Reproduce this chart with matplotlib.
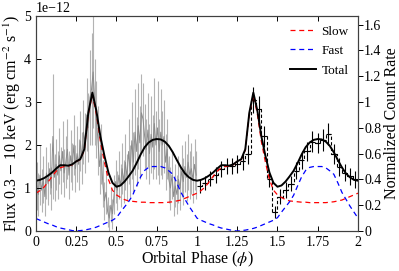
import numpy as np
import matplotlib
matplotlib.use('Agg')
import matplotlib.pyplot as plt
from matplotlib.ticker import FuncFormatter

plt.rcParams['font.family'] = ['Liberation Serif', 'DejaVu Serif']
plt.rcParams['mathtext.fontset'] = 'stix'

# ---------------- data (flux in units of 1e-12 erg cm^-2 s^-1) ----------------
model_phase = np.arange(81) * 0.025

total = [1.17, 1.19, 1.23, 1.29, 1.36, 1.45, 1.53, 1.53, 1.52, 1.55,
         1.62, 1.67, 1.90, 2.75, 3.22, 2.80, 2.20, 1.75, 1.36, 1.12,
         1.03, 1.06, 1.15, 1.27, 1.40, 1.58, 1.78, 1.95, 2.06, 2.12,
         2.14, 2.13, 2.08, 1.98, 1.83, 1.65, 1.48, 1.34, 1.25, 1.19,
         1.17, 1.19, 1.23, 1.29, 1.36, 1.45, 1.53, 1.53, 1.52, 1.55,
         1.62, 1.67, 1.90, 2.75, 3.22, 2.80, 2.20, 1.75, 1.36, 1.12,
         1.03, 1.06, 1.15, 1.27, 1.40, 1.58, 1.78, 1.95, 2.06, 2.12,
         2.14, 2.13, 2.08, 1.98, 1.83, 1.65, 1.48, 1.34, 1.25, 1.19,
         1.17]

slow = [0.88, 0.94, 1.02, 1.14, 1.27, 1.39, 1.47, 1.50, 1.51, 1.54,
        1.62, 1.66, 1.88, 2.72, 3.17, 2.72, 2.08, 1.60, 1.20, 0.95,
        0.84, 0.78, 0.73, 0.70, 0.69, 0.68, 0.67, 0.67, 0.66, 0.66,
        0.66, 0.66, 0.66, 0.67, 0.68, 0.70, 0.72, 0.76, 0.80, 0.84,
        0.88, 0.94, 1.02, 1.14, 1.27, 1.39, 1.47, 1.50, 1.51, 1.54,
        1.62, 1.66, 1.88, 2.72, 3.17, 2.72, 2.08, 1.60, 1.20, 0.95,
        0.84, 0.78, 0.73, 0.70, 0.69, 0.68, 0.67, 0.67, 0.66, 0.66,
        0.66, 0.66, 0.66, 0.67, 0.68, 0.70, 0.72, 0.76, 0.80, 0.84,
        0.88]

fast = [0.29, 0.25, 0.21, 0.17, 0.14, 0.10, 0.07, 0.05, 0.03, 0.01,
        0.00, 0.01, 0.02, 0.04, 0.06, 0.09, 0.13, 0.17, 0.21, 0.25,
        0.31, 0.44, 0.56, 0.68, 0.83, 1.05, 1.26, 1.41, 1.48, 1.50,
        1.50, 1.50, 1.47, 1.40, 1.32, 1.12, 0.90, 0.74, 0.58, 0.44,
        0.30, 0.25, 0.21, 0.17, 0.14, 0.10, 0.07, 0.05, 0.03, 0.01,
        0.00, 0.01, 0.02, 0.04, 0.06, 0.09, 0.13, 0.17, 0.21, 0.25,
        0.31, 0.44, 0.56, 0.68, 0.83, 1.05, 1.26, 1.41, 1.48, 1.50,
        1.50, 1.50, 1.47, 1.40, 1.32, 1.12, 0.90, 0.74, 0.58, 0.44,
        0.30]

# unbinned light curve, phase 0-1
raw_phase = np.arange(100) * 0.01 + 0.005
raw_flux = [1.05, 0.85, 1.30, 0.95, 1.20, 0.80, 1.35, 1.10, 1.45, 1.00,
            2.20, 1.25, 1.55, 1.30, 1.75, 1.40, 1.85, 1.35, 1.60, 1.90,
            1.30, 1.75, 1.50, 2.00, 1.45, 1.80, 1.55, 2.10, 1.70, 2.30,
            2.05, 2.70, 2.40, 3.10, 3.30, 3.70, 3.00, 2.60, 2.10, 1.50,
            1.80, 1.10, 0.70, 0.90, 0.45, 0.30, 0.60, 0.40, 0.85, 1.15,
            0.95, 1.30, 1.05, 1.45, 1.15, 1.60, 1.25, 1.85, 1.40, 2.10,
            1.60, 2.30, 1.85, 2.45, 2.05, 2.75, 2.60, 2.20, 1.90, 2.35,
            1.80, 2.25, 1.95, 2.50, 2.00, 2.40, 1.85, 2.30, 2.00, 2.20,
            1.60, 1.90, 1.20, 1.00, 1.30, 0.80, 1.05, 0.85, 1.20, 1.00,
            1.40, 1.15, 1.50, 1.25, 1.60, 1.30, 1.45, 1.20, 1.55, 1.30]
raw_err = [0.55, 0.50, 0.70, 0.50, 0.55, 0.45, 0.60, 0.50, 0.60, 0.50,
           1.45, 0.55, 0.60, 0.55, 0.65, 0.55, 0.70, 0.55, 0.60, 0.70,
           0.55, 0.60, 0.55, 0.70, 0.55, 0.65, 0.60, 0.70, 0.60, 0.75,
           0.70, 0.85, 0.80, 1.10, 1.30, 1.30, 1.00, 0.90, 0.80, 0.65,
           0.70, 0.55, 0.45, 0.50, 0.35, 0.30, 0.40, 0.35, 0.45, 0.50,
           0.45, 0.55, 0.50, 0.60, 0.50, 0.65, 0.55, 0.75, 0.60, 0.90,
           0.70, 1.00, 0.80, 1.00, 0.85, 0.90, 0.85, 0.75, 0.70, 0.85,
           0.70, 0.90, 0.75, 1.05, 0.80, 1.10, 0.75, 1.00, 0.80, 0.85,
           0.65, 0.70, 0.55, 0.50, 0.55, 0.45, 0.50, 0.45, 0.55, 0.50,
           0.60, 0.55, 0.60, 0.55, 0.65, 0.55, 0.60, 0.55, 0.60, 0.55]

# binned light curve, phase 1-2 (30 bins)
bin_phase = 1 + (np.arange(30) + 0.5) / 30
bin_flux = [1.05, 1.12, 1.22, 1.30, 1.45, 1.52, 1.52, 1.56, 1.63, 1.78,
            3.05, 2.85, 2.20, 1.20, 0.45, 0.80, 0.95, 1.10, 1.40, 1.65,
            1.85, 2.08, 2.05, 2.12, 2.25, 1.80, 1.50, 1.36, 1.27, 1.20]
bin_err = [0.17, 0.17, 0.18, 0.18, 0.19, 0.19, 0.19, 0.20, 0.20, 0.21,
           0.30, 0.29, 0.25, 0.18, 0.14, 0.17, 0.18, 0.18, 0.20, 0.21,
           0.23, 0.24, 0.24, 0.25, 0.26, 0.23, 0.21, 0.20, 0.19, 0.19]

xticks = [0, 0.25, 0.5, 0.75, 1, 1.25, 1.5, 1.75, 2]
right_ticks = [0, 0.2, 0.4, 0.6, 0.8, 1.0, 1.2, 1.4, 1.6]

S = 1e-12
# ---------------- figure ----------------
fig = plt.figure(figsize=(3.99, 2.71), dpi=100)
ax = fig.add_axes([0.0902, 0.1476, 0.807, 0.793])

ax.errorbar(raw_phase, np.array(raw_flux) * S, yerr=np.array(raw_err) * S,
            fmt='-', color='0.55', ecolor='0.7', lw=0.7, elinewidth=0.8,
            capsize=0, zorder=1)

ax.step(bin_phase, np.array(bin_flux) * S, where='mid', color='k',
        ls=(0, (3, 2)), lw=0.8, zorder=2)
ax.errorbar(bin_phase, np.array(bin_flux) * S, xerr=1 / 60,
            yerr=np.array(bin_err) * S, fmt='none', ecolor='k',
            elinewidth=0.8, capsize=0, zorder=2)

ax.plot(model_phase, np.array(slow) * S, color='red', ls=(0, (4, 3)),
        lw=0.9, label='Slow', zorder=3)
ax.plot(model_phase, np.array(fast) * S, color='blue', ls=(0, (4, 3)),
        lw=0.9, label='Fast', zorder=3)
ax.plot(model_phase, np.array(total) * S, color='k', lw=1.4,
        label='Total', zorder=4)

ax.set_xlim(0, 2)
ax.set_ylim(0, 5e-12)
ax.set_xticks(xticks)
ax.xaxis.set_major_formatter(FuncFormatter(lambda v, p: '%g' % v))
ax.set_yticks(np.arange(6) * S)
ax.tick_params(direction='in', top=True, right=False, labelsize=10,
               length=3.5, width=0.7)
ax.yaxis.get_offset_text().set_fontsize(10)
ax.set_xlabel(r'Orbital Phase ($\phi$)', fontsize=11.5, labelpad=1)
ax.set_ylabel(r'Flux 0.3 $-$ 10 keV (erg cm$^{-2}$ s$^{-1}$)',
              fontsize=11.5, labelpad=1)

ax2 = ax.twinx()
ax2.set_ylim(0, 5 / 3)
ax2.set_yticks(right_ticks)
ax2.yaxis.set_major_formatter(FuncFormatter(lambda v, p: '%g' % v))
ax2.tick_params(direction='out', labelsize=10, length=3.5, width=0.7, pad=1)
ax2.set_ylabel('Normalized Count Rate', fontsize=11.5, labelpad=2)

for a in (ax, ax2):
    for s in a.spines.values():
        s.set_linewidth(0.8)
        s.set_color('0.25')

leg = ax.legend(loc='upper right', frameon=False, fontsize=9.5,
                handlelength=2.0, handletextpad=0.4, labelspacing=0.55,
                borderaxespad=0.3)

fig.savefig('out.png', dpi=100)
